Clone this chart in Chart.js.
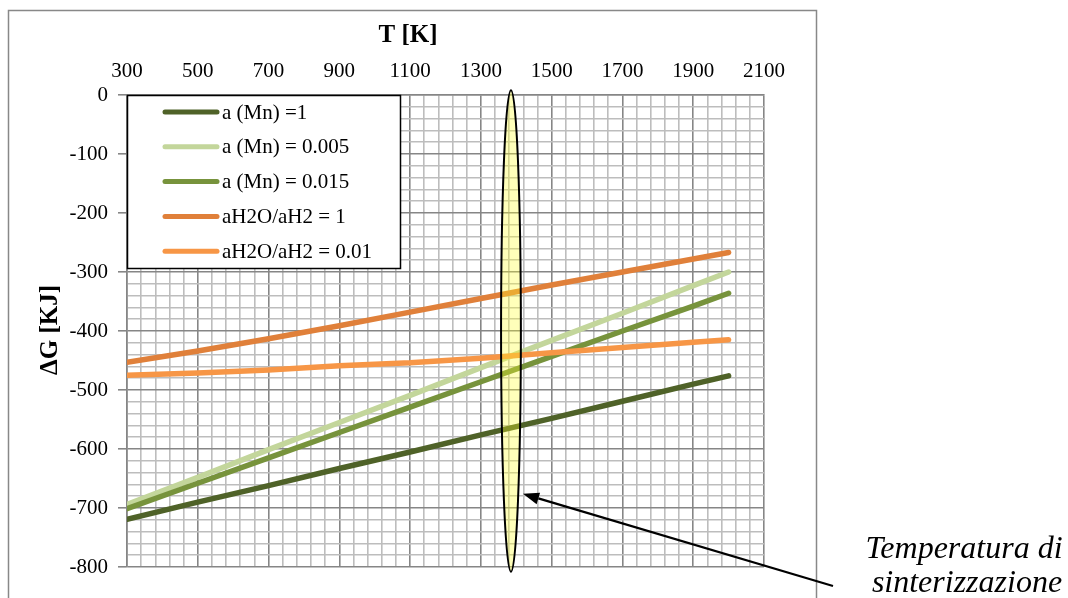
<!DOCTYPE html>
<html><head><meta charset="utf-8">
<script src="https://cdn.jsdelivr.net/npm/chart.js@4/dist/chart.umd.min.js"></script>
<style>html,body{margin:0;padding:0;background:#fff;}#wrap{width:1068px;height:598px;position:relative;}</style>
</head><body><div id="wrap"><canvas id="c" width="1068" height="598"></canvas></div>
<script>
const T = [300, 500, 700, 900, 1100, 1300, 1500, 1700, 1900, 2000];
const aMn_1     = [-719, -690, -662, -633, -605, -576, -548, -519, -490, -476];
const aMn_0005  = [-694, -648, -601, -555, -509, -462, -416, -370, -323, -300];
const aMn_0015  = [-701, -658, -615, -572, -529, -486, -443, -400, -358, -336];
const h2o_1     = [-453, -434, -413, -391, -368, -345, -322, -300, -278, -267];
const h2o_001   = [-475, -471, -466, -459, -454, -446, -437, -428, -419, -415];
const seriesLabels = ['a (Mn) =1', 'a (Mn) = 0.005', 'a (Mn) = 0.015', 'aH2O/aH2 = 1', 'aH2O/aH2 = 0.01'];
const seriesColors = ['#4f6228', '#c3d69b', '#77933c', '#e0803a', '#f79646'];
const xTickLabels = [300, 500, 700, 900, 1100, 1300, 1500, 1700, 1900, 2100];
const yTickLabels = [0, -100, -200, -300, -400, -500, -600, -700, -800];
const sinterT = 1385, sinterHalfWidth = 28, sinterTop = 8, sinterBottom = -808;
const arrowTipT = 1419, arrowTipV = -676;

const serif = '"Liberation Serif", "Times New Roman", serif';
const allSeries = [aMn_1, aMn_0005, aMn_0015, h2o_1, h2o_001];
const datasets = allSeries.map((s, i) => ({
  label: seriesLabels[i],
  data: T.map((t, j) => ({x: t, y: s[j]})),
  borderColor: seriesColors[i],
  backgroundColor: seriesColors[i],
  borderWidth: 5.5,
  pointRadius: 0,
  tension: 0,
  borderCapStyle: 'round',
  fill: false,
  order: 5 - i
}));

const MAJOR = '#868686', MINOR = '#bdbdbd';

const decor = {
  id: 'decor',
  afterDatasetsDraw(chart) {
    const ctx = chart.ctx, xs = chart.scales.x, ys = chart.scales.y;
    const cx = xs.getPixelForValue(sinterT);
    const rx = xs.getPixelForValue(sinterT + sinterHalfWidth) - cx;
    const top = ys.getPixelForValue(sinterTop), bot = ys.getPixelForValue(sinterBottom);
    ctx.save();
    ctx.beginPath();
    ctx.ellipse(cx, (top + bot) / 2, rx, (bot - top) / 2, 0, 0, Math.PI * 2);
    ctx.fillStyle = 'rgba(255,255,40,0.32)';
    ctx.fill();
    ctx.lineWidth = 2;
    ctx.strokeStyle = '#000';
    ctx.stroke();
    ctx.restore();
  },
  afterDraw(chart) {
    const ctx = chart.ctx, xs = chart.scales.x, ys = chart.scales.y;
    const ca = chart.chartArea;
    ctx.save();
    ctx.strokeStyle = '#888';
    ctx.lineWidth = 1.5;
    ctx.strokeRect(8.5, 10.5, 808, 620);
    ctx.fillStyle = '#000';
    ctx.font = 'bold 25px ' + serif;
    ctx.textAlign = 'center';
    ctx.textBaseline = 'middle';
    ctx.fillText('T [K]', 408, 36);
    ctx.save();
    ctx.translate(51, 330);
    ctx.rotate(-Math.PI / 2);
    ctx.fillText('\u0394G [KJ]', 0, 0);
    ctx.restore();
    const lx = ca.left, ly = ca.top, lw = 273, lh = 173;
    ctx.fillStyle = '#fff';
    ctx.fillRect(lx, ly, lw, lh);
    ctx.strokeStyle = '#000';
    ctx.lineWidth = 1.5;
    ctx.strokeRect(lx + 0.5, ly + 0.5, lw, lh);
    ctx.font = '21px ' + serif;
    ctx.textAlign = 'left';
    ctx.textBaseline = 'middle';
    seriesLabels.forEach((lab, i) => {
      const yy = ly + 17 + i * 34.8;
      ctx.strokeStyle = seriesColors[i];
      ctx.lineWidth = 5;
      ctx.lineCap = 'round';
      ctx.beginPath();
      ctx.moveTo(lx + 38, yy);
      ctx.lineTo(lx + 90, yy);
      ctx.stroke();
      ctx.fillStyle = '#000';
      ctx.fillText(lab, lx + 95, yy + 1);
    });
    const tx = xs.getPixelForValue(arrowTipT), ty = ys.getPixelForValue(arrowTipV);
    const sx = 833, sy = 586;
    const ang = Math.atan2(ty - sy, tx - sx);
    const hl = 16, hw = 6;
    const bx = tx - hl * Math.cos(ang), by = ty - hl * Math.sin(ang);
    ctx.strokeStyle = '#000';
    ctx.lineWidth = 2.2;
    ctx.lineCap = 'butt';
    ctx.beginPath();
    ctx.moveTo(sx, sy);
    ctx.lineTo(bx, by);
    ctx.stroke();
    ctx.fillStyle = '#000';
    ctx.beginPath();
    ctx.moveTo(tx, ty);
    ctx.lineTo(bx + hw * Math.sin(ang), by - hw * Math.cos(ang));
    ctx.lineTo(bx - hw * Math.sin(ang), by + hw * Math.cos(ang));
    ctx.closePath();
    ctx.fill();
    ctx.font = 'italic 32px ' + serif;
    ctx.textAlign = 'center';
    ctx.textBaseline = 'alphabetic';
    ctx.fillText('Temperatura di', 964, 558);
    ctx.fillText('sinterizzazione', 967, 592);
    ctx.restore();
  }
};

new Chart(document.getElementById('c'), {
  type: 'line',
  data: {datasets},
  options: {
    responsive: false,
    animation: false,
    devicePixelRatio: 1,
    layout: {padding: {left: 0, top: 0, right: 304, bottom: 31}},
    plugins: {legend: {display: false}, tooltip: {enabled: false}},
    scales: {
      x: {
        type: 'linear', position: 'top', min: 300, max: 2100,
        afterFit(s) { s.height = 95; },
        ticks: {
          stepSize: 40, autoSkip: false, maxRotation: 0, minRotation: 0, padding: 11,
          color: '#000', font: {family: serif, size: 21},
          callback: v => (xTickLabels.includes(v) ? String(v) : '')
        },
        grid: {
          drawTicks: false, lineWidth: 1.6,
          color: c => (xTickLabels.includes(c.tick.value) ? MAJOR : MINOR)
        },
        border: {color: MAJOR, width: 1.6}
      },
      y: {
        type: 'linear', position: 'left', min: -800, max: 0,
        afterFit(s) { s.width = 127; },
        ticks: {
          stepSize: 20, autoSkip: false, padding: 10,
          color: '#000', font: {family: serif, size: 21},
          callback: v => (yTickLabels.includes(v) ? String(v) : '')
        },
        grid: {
          drawTicks: true, tickLength: 9, lineWidth: 1.6,
          color: c => (yTickLabels.includes(c.tick.value) ? MAJOR : MINOR),
          tickColor: c => (yTickLabels.includes(c.tick.value) ? MAJOR : 'rgba(0,0,0,0)')
        },
        border: {color: MAJOR, width: 1.6}
      }
    }
  },
  plugins: [decor]
});
</script></body></html>
